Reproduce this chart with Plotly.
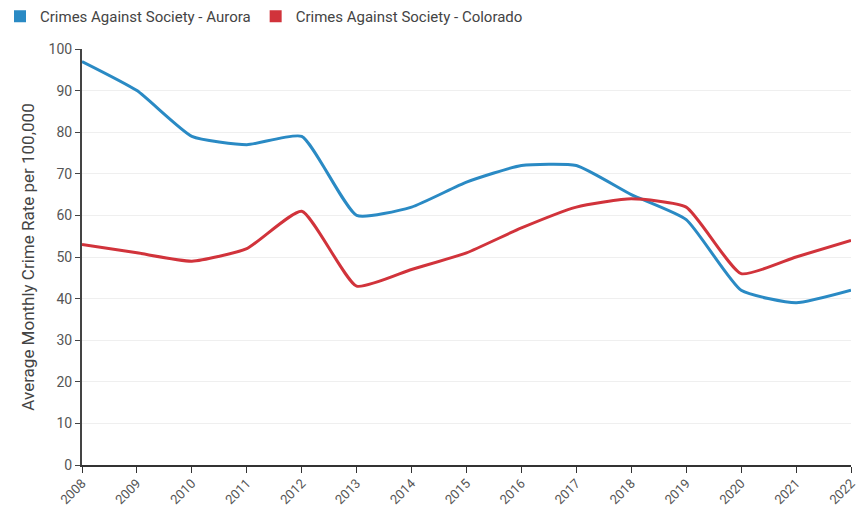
import plotly.graph_objects as go

years = [str(y) for y in range(2008, 2023)]
aurora = [97, 90, 79, 77, 79, 60, 62, 68, 72, 72, 65, 59, 42, 39, 42]
colorado = [53, 51, 49, 52, 61, 43, 47, 51, 57, 62, 64, 62, 46, 50, 54]
names = ["Crimes Against Society - Aurora", "Crimes Against Society - Colorado"]
colors = ["#2A8AC4", "#D1333B"]
yticks = list(range(0, 101, 10))

fig = go.Figure()
for vals, name, col in zip([aurora, colorado], names, colors):
    fig.add_trace(go.Scatter(x=years, y=vals, mode="lines", name=name,
                             line=dict(color=col, width=3, shape="spline", smoothing=0.5),
                             showlegend=False, hoverinfo="x+y"))
    fig.add_trace(go.Scatter(x=[None], y=[None], mode="markers", name=name,
                             marker=dict(color=col, symbol="square", size=12),
                             showlegend=True))

fig.update_layout(
    width=856, height=506,
    margin=dict(l=82, r=5, t=49, b=41, autoexpand=False),
    paper_bgcolor="white", plot_bgcolor="white",
    font=dict(family="Roboto", size=13, color="#444"),
    legend=dict(orientation="h", xref="container", yref="container", x=0, y=1,
                xanchor="left", yanchor="top",
                font=dict(size=15, color="#444"), itemwidth=30, tracegroupgap=0,
                bgcolor="rgba(0,0,0,0)"),
    xaxis=dict(type="category", range=[0, 14], showline=True, linecolor="#333", linewidth=1.5,
               ticks="outside", ticklen=6, tickcolor="#333", tickangle=-45, automargin=False,
               ticklabelstandoff=-2,
               showgrid=False, tickfont=dict(size=13, color="#555")),
    yaxis=dict(range=[0, 100], tickvals=yticks, showline=True, linecolor="#444", linewidth=2,
               ticks="outside", ticklen=5, tickcolor="#444", gridcolor="#efefef", automargin=False,
               zeroline=False, tickfont=dict(size=14, color="#555"),
               title=dict(text="Average Monthly Crime Rate per 100,000",
                          font=dict(size=17, color="#444"), standoff=10)),
)
fig.write_html("out.html", config={"displayModeBar": False},
               post_script="document.body.style.margin='0';")
